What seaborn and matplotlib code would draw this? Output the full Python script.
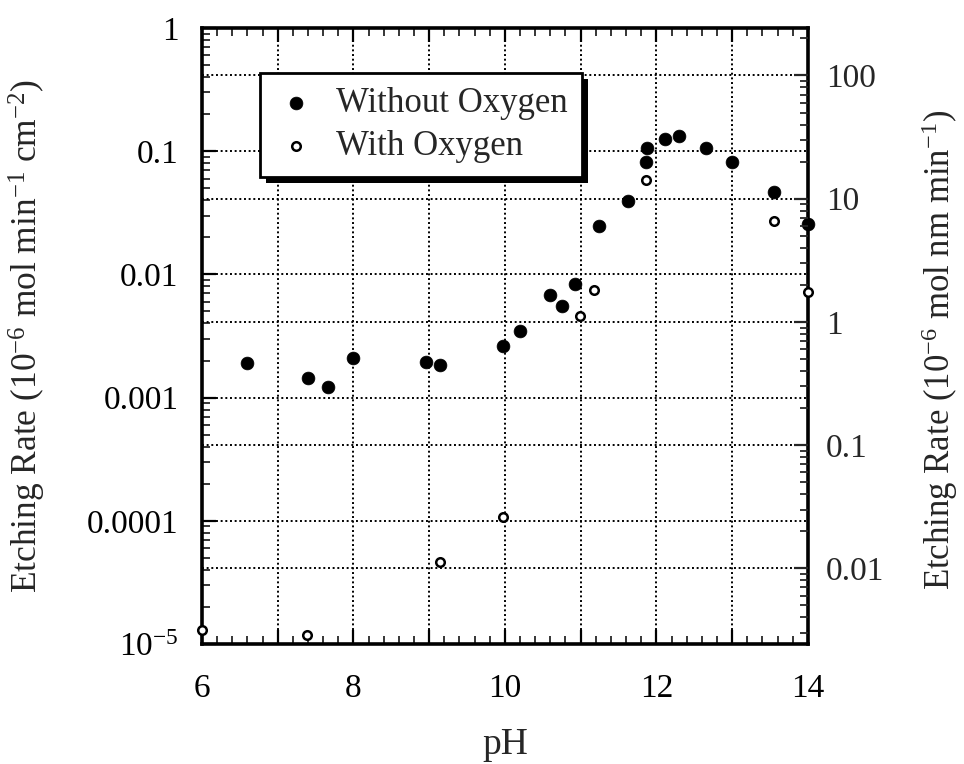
import numpy as np
import pandas as pd
import matplotlib
matplotlib.use("Agg")
import matplotlib.pyplot as plt
import matplotlib.ticker as mticker
from matplotlib.patches import Rectangle
from matplotlib.transforms import IdentityTransform
import seaborn as sns

# Etching rate vs pH, without and with dissolved oxygen
ph_no_o2 = [6.59, 7.40, 7.66, 8.00, 8.96, 9.14, 9.97, 10.20, 10.60, 10.76, 10.93,
            11.24, 11.62, 11.86, 11.87, 12.11, 12.30, 12.66, 13.00, 13.55, 14.00]
rate_no_o2 = [0.0019, 0.00145, 0.00121, 0.00208, 0.00196, 0.00184, 0.00264, 0.00347,
              0.0068, 0.00557, 0.0083, 0.0248, 0.0394, 0.0813, 0.107, 0.125, 0.134,
              0.107, 0.0813, 0.0469, 0.0256]

ph_o2 = [6.00, 7.39, 9.14, 9.97, 10.99, 11.18, 11.86, 13.55, 14.00]
rate_o2 = [1.30e-5, 1.18e-5, 4.66e-5, 1.07e-4, 0.00462, 0.00747, 0.0584, 0.0271, 0.00724]

# conversion factor between the left and right scales
conv = 243.0

left_ticks = [1e-5, 1e-4, 1e-3, 1e-2, 1e-1, 1]
left_labels = [r"10$^{-5}$", "0.0001", "0.001", "0.01", "0.1", "1"]
right_ticks = [0.01, 0.1, 1, 10, 100]
right_labels = ["0.01", "0.1", "1", "10", "100"]
x_ticks = [6, 8, 10, 12, 14]

df_no = pd.DataFrame({"pH": ph_no_o2, "rate": rate_no_o2})
df_o2 = pd.DataFrame({"pH": ph_o2, "rate": rate_o2})

sns.set_style("white")
plt.rcParams["font.family"] = ["Liberation Serif", "DejaVu Serif"]
plt.rcParams["mathtext.fontset"] = "custom"
plt.rcParams["mathtext.rm"] = "Liberation Serif"
plt.rcParams["mathtext.it"] = "Liberation Serif:italic"

fig = plt.figure(figsize=(9.64, 7.64), dpi=100)
ax = fig.add_axes([0.2095, 0.157, 0.6285, 0.8064])

ax.set_yscale("log")
ax.set_xlim(6, 14)
ax.set_ylim(1e-5, 1)

sns.scatterplot(data=df_no, x="pH", y="rate", ax=ax, s=85, color="black",
                edgecolor="black", linewidth=0.5, marker="o", label="Without Oxygen",
                clip_on=False, zorder=6)
sns.scatterplot(data=df_o2, x="pH", y="rate", ax=ax, s=38, facecolor="white",
                edgecolor="black", linewidth=1.8, marker="o", label="With Oxygen",
                clip_on=False, zorder=6)

grid_kw = dict(color="black", linestyle=(0, (1, 1.4)), linewidth=1.4, zorder=1)
for xv in range(7, 14):
    ax.axvline(xv, **grid_kw)
for yv in left_ticks[1:-1]:
    ax.axhline(yv, **grid_kw)
for yv in right_ticks:
    ax.axhline(yv / conv, **grid_kw)

# x axis ticks
ax.xaxis.set_major_locator(mticker.MultipleLocator(1))
ax.xaxis.set_minor_locator(mticker.MultipleLocator(0.2))
ax.xaxis.set_major_formatter(mticker.FuncFormatter(
    lambda v, p: f"{int(round(v))}" if int(round(v)) in x_ticks else ""))

# left y axis ticks
ax.yaxis.set_major_locator(mticker.FixedLocator(left_ticks))
ax.yaxis.set_major_formatter(mticker.FixedFormatter(left_labels))
ax.yaxis.set_minor_locator(mticker.LogLocator(base=10, subs=np.arange(2, 10), numticks=20))
ax.yaxis.set_minor_formatter(mticker.NullFormatter())

ax.tick_params(axis="both", which="major", direction="in", length=10, width=1.6,
               labelsize=24, colors="black")
ax.tick_params(axis="both", which="minor", direction="in", length=6, width=1.3)
ax.tick_params(axis="x", which="both", top=True, bottom=True)
ax.tick_params(axis="x", which="major", pad=21)
ax.tick_params(axis="y", which="both", left=True, right=False)
ax.tick_params(axis="y", which="major", pad=17)

for sp in ax.spines.values():
    sp.set_linewidth(2.6)
    sp.set_color("black")
    sp.set_visible(True)

ax.set_xlabel("pH", fontsize=27, labelpad=17)
ax.set_ylabel(r"Etching Rate (10$^{-6}$ mol min$^{-1}$ cm$^{-2}$)", fontsize=25.5, labelpad=28)

# right y axis in the second unit
ax2 = ax.twinx()
ax2.set_yscale("log")
ax2.set_ylim(1e-5 * conv, 1 * conv)
ax2.yaxis.set_major_locator(mticker.FixedLocator(right_ticks))
ax2.yaxis.set_major_formatter(mticker.FixedFormatter(right_labels))
ax2.yaxis.set_minor_locator(mticker.LogLocator(base=10, subs=np.arange(2, 10), numticks=20))
ax2.yaxis.set_minor_formatter(mticker.NullFormatter())
ax2.tick_params(axis="y", which="major", direction="in", length=10, width=1.6,
                labelsize=24, pad=13, right=True, left=False)
ax2.tick_params(axis="y", which="minor", direction="in", length=6, width=1.3,
                right=True, left=False)
for sp in ax2.spines.values():
    sp.set_visible(False)
ax2.set_ylabel(r"Etching Rate (10$^{-6}$ mol nm min$^{-1}$)", fontsize=25, labelpad=25)
ax2.yaxis.label.set_y(0.477)

leg = ax.legend(loc="upper left", bbox_to_anchor=(0.0957, 0.927), borderaxespad=0,
                fontsize=25, frameon=True, fancybox=False, scatterpoints=1,
                handletextpad=0.5, borderpad=0.4, labelspacing=0.3,
                handlelength=1.3)
leg.get_frame().set_edgecolor("black")
leg.get_frame().set_linewidth(2.0)
leg.get_frame().set_facecolor("white")
leg.get_frame().set_alpha(1)
leg.set_zorder(8)

fig.canvas.draw()
bb = leg.get_window_extent()
shadow = Rectangle((bb.x0 + 6, bb.y0 - 6), bb.width, bb.height,
                   transform=IdentityTransform(), facecolor="black",
                   edgecolor="none", zorder=7)
ax.add_artist(shadow)

fig.savefig("out.png", dpi=100)
